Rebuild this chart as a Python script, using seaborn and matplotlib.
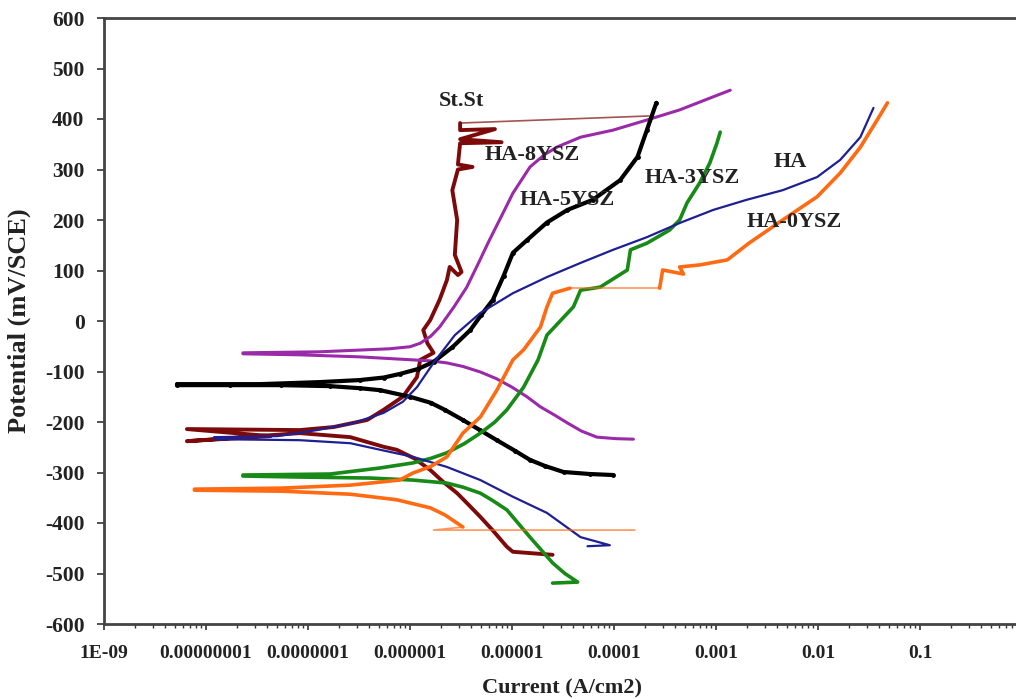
import numpy as np
import pandas as pd
import matplotlib
matplotlib.use("Agg")
import matplotlib.pyplot as plt
import matplotlib.ticker as mticker
import seaborn as sns

# potentiodynamic polarisation curves, current in A/cm2, potential in mV/SCE
# each series runs cathodic branch (from most negative E) -> Ecorr -> anodic branch

ss_i = [2.5e-5, 1.02e-5, 8.9e-6, 6.5e-6, 4.9e-6, 3.8e-6, 2.9e-6, 2.1e-6, 1.58e-6, 1.1e-6,
        7.4e-7, 5.5e-7, 2.6e-7, 8.3e-8, 6.5e-9, 4.3e-8, 6.5e-9, 8.3e-8, 1.78e-7, 3.8e-7,
        5.5e-7, 8.5e-7, 1.17e-6, 1.26e-6, 1.7e-6, 1.48e-6, 1.35e-6, 1.58e-6, 1.95e-6, 2.3e-6,
        2.45e-6, 2.95e-6, 3.2e-6, 2.75e-6, 2.9e-6, 2.6e-6, 2.95e-6, 4.1e-6, 2.95e-6, 3.1e-6,
        7.9e-6, 3.1e-6, 6.8e-6, 3.1e-6, 3.1e-6, 2.2e-4]
ss_e = [-463, -457, -447, -415, -388, -365, -341, -318, -295, -272,
        -255, -249, -230, -222, -238, -228, -214, -216, -210, -196,
        -176, -150, -111, -77, -63, -44, -18, 2, 42, 81,
        107, 91, 97, 131, 200, 259, 300, 305, 310, 352,
        354, 360, 380, 378, 392, 406]

y8_i = [1.55e-4, 1.05e-4, 6.8e-5, 4.8e-5, 3.5e-5, 2.6e-5, 1.9e-5, 1.4e-5, 1.0e-5, 7.0e-6,
        4.9e-6, 3.3e-6, 2.3e-6, 1.6e-6, 1.07e-6, 3.2e-7, 8.3e-8, 2.3e-8, 2.3e-8, 1.3e-7,
        6.3e-7, 1.0e-6, 1.26e-6, 1.6e-6, 1.95e-6, 2.7e-6, 3.6e-6, 4.7e-6, 6.0e-6, 7.9e-6,
        1.02e-5, 1.5e-5, 2.1e-5, 2.8e-5, 4.7e-5, 9.8e-5, 2.1e-4, 4.4e-4, 9.4e-4, 1.38e-3]
y8_e = [-234, -233, -230, -218, -202, -186, -170, -150, -131, -114,
        -101, -90, -83, -79, -77, -71, -67, -65, -63, -61,
        -55, -51, -44, -30, -12, 28, 67, 115, 160, 208,
        253, 305, 330, 345, 364, 378, 398, 418, 444, 457]

y5_i = [9.8e-5, 5.8e-5, 3.2e-5, 2.1e-5, 1.5e-5, 1.07e-5, 7.1e-6, 4.85e-6, 3.3e-6, 2.2e-6,
        1.6e-6, 1.0e-6, 5.1e-7, 3.2e-7, 1.65e-7, 5.4e-8, 1.7e-8, 5.2e-9, 5.2e-9, 3.4e-8,
        1.3e-7, 3.2e-7, 5.5e-7, 7.9e-7, 1.2e-6, 1.7e-6, 2.6e-6, 3.9e-6, 5.0e-6, 6.5e-6,
        8.3e-6, 1.02e-5, 1.4e-5, 2.2e-5, 3.5e-5, 6.2e-5, 1.15e-4, 1.7e-4, 2.1e-4, 2.6e-4]
y5_e = [-305, -303, -299, -287, -275, -257, -236, -216, -196, -176,
        -162, -150, -137, -133, -129, -127, -127, -127, -125, -125,
        -121, -117, -112, -105, -95, -81, -52, -18, 12, 42,
        90, 135, 160, 195, 220, 240, 279, 325, 378, 432]

y3_i = [2.5e-5, 4.4e-5, 3.3e-5, 2.5e-5, 1.5e-5, 8.9e-6, 6.4e-6, 4.9e-6, 3.3e-6, 2.3e-6,
        1.07e-6, 4.1e-7, 8.3e-8, 2.3e-8, 2.3e-8, 1.65e-7, 5.1e-7, 1.07e-6, 1.6e-6, 2.3e-6,
        3.4e-6, 4.9e-6, 6.8e-6, 8.9e-6, 1.3e-5, 1.8e-5, 2.2e-5, 4.0e-5, 4.7e-5, 7.3e-5,
        1.35e-4, 1.45e-4, 2.1e-4, 3.5e-4, 4.4e-4, 5.2e-4, 6.9e-4, 8.7e-4, 1.02e-3, 1.1e-3]
y3_e = [-519, -517, -500, -479, -428, -374, -355, -341, -329, -321,
        -315, -311, -309, -307, -305, -303, -291, -281, -272, -261,
        -243, -222, -200, -176, -131, -77, -28, 28, 61, 67,
        101, 141, 154, 180, 200, 234, 273, 313, 352, 374]

ha_i = [5.5e-5, 9.1e-5, 4.7e-5, 2.2e-5, 1.02e-5, 4.9e-6, 2.3e-6, 1.07e-6, 5.1e-7, 2.6e-7,
        8.3e-8, 1.2e-8, 1.2e-8, 5.0e-8, 1.23e-7, 2.8e-7, 5.5e-7, 8.5e-7, 1.17e-6, 1.7e-6,
        2.75e-6, 4.9e-6, 1.02e-5, 2.2e-5, 4.7e-5, 9.8e-5, 2.1e-4, 4.4e-4, 9.4e-4, 2.0e-3,
        4.5e-3, 9.8e-3, 1.65e-2, 2.6e-2, 3.5e-2]
ha_e = [-446, -444, -428, -380, -348, -315, -289, -269, -255, -242,
        -236, -234, -230, -228, -216, -202, -182, -160, -131, -83,
        -28, 16, 55, 87, 115, 141, 166, 194, 220, 240,
        259, 285, 319, 364, 422]

y0_i = [1.6e-4, 1.7e-6, 3.3e-6, 2.2e-6, 1.58e-6, 7.4e-7, 2.6e-7, 5.6e-8, 7.7e-9, 7.7e-9,
        5.4e-8, 2.6e-7, 7.9e-7, 1.07e-6, 1.6e-6, 2.3e-6, 3.3e-6, 4.9e-6, 7.1e-6, 1.02e-5,
        1.3e-5, 1.9e-5, 2.2e-5, 2.5e-5, 3.7e-5, 2.8e-4, 3.0e-4, 4.8e-4, 4.4e-4, 6.9e-4,
        1.29e-3, 2.1e-3, 4.5e-3, 9.8e-3, 1.65e-2, 2.6e-2, 3.8e-2, 4.8e-2]
y0_e = [-414, -414, -408, -384, -370, -354, -343, -337, -335, -333,
        -331, -325, -315, -301, -288, -269, -222, -190, -137, -77,
        -57, -12, 28, 55, 65, 65, 101, 93, 107, 111,
        121, 154, 200, 246, 293, 344, 398, 432]

samples = ["St.St", "HA-8YSZ", "HA-5YSZ", "HA-3YSZ", "HA", "HA-0YSZ"]
currents = [ss_i, y8_i, y5_i, y3_i, ha_i, y0_i]
potentials = [ss_e, y8_e, y5_e, y3_e, ha_e, y0_e]
colors = ["#7d0a0a", "#9a2aa8", "#000000", "#178a17", "#1f1f94", "#ff6a12"]
widths = [2.8, 2.2, 3.0, 2.6, 1.6, 2.6]

# stretches of a series drawn as a thin trace (sample, first point, last point)
thin_parts = [("St.St", 44, 45), ("HA-0YSZ", 0, 2), ("HA-0YSZ", 24, 25)]

# label positions (current, potential)
lab_i = [3.2e-6, 1.58e-5, 3.5e-5, 5.8e-4, 5.4e-3, 5.9e-3]
lab_e = [436, 329, 240, 283, 315, 196]

xtick_vals = [1e-9, 1e-8, 1e-7, 1e-6, 1e-5, 1e-4, 1e-3, 1e-2, 1e-1]
xtick_labels = ["1E-09", "0.00000001", "0.0000001", "0.000001", "0.00001",
                "0.0001", "0.001", "0.01", "0.1"]
ytick_vals = list(range(-600, 601, 100))

frames = []
for name, ci, ei in zip(samples, currents, potentials):
    frames.append(pd.DataFrame({"current": ci, "potential": ei, "sample": name}))
df = pd.concat(frames, ignore_index=True)

sns.set_style("white")
plt.rcParams["font.family"] = ["Liberation Serif", "DejaVu Serif"]
plt.rcParams["font.weight"] = "bold"

fig = plt.figure(figsize=(10.16, 6.99), dpi=100)
ax = fig.add_axes([104 / 1016, 1 - 624 / 699, 918 / 1016, 606 / 699])

for name, col, lw in zip(samples, colors, widths):
    sub = df[df["sample"] == name].reset_index(drop=True)
    # thick body of the curve, leaving out the thin stretches
    keep = np.ones(len(sub), dtype=bool)
    cuts = [(a, b) for s, a, b in thin_parts if s == name]
    pieces = []
    start = 0
    for a, b in sorted(cuts):
        pieces.append((start, a + 1))
        start = b
    pieces.append((start, len(sub)))
    for a, b in pieces:
        if b - a >= 2:
            sns.lineplot(data=sub.iloc[a:b], x="current", y="potential", ax=ax,
                         color=col, lw=lw, sort=False, estimator=None,
                         marker="o" if name == "HA-5YSZ" else None,
                         markersize=3.5, markeredgewidth=0)
    for a, b in cuts:
        sns.lineplot(data=sub.iloc[a:b + 1], x="current", y="potential", ax=ax,
                     color=col, lw=1.2, alpha=0.7, sort=False, estimator=None)

ax.set_xscale("log")
ax.set_xlim(1e-9, 1)
ax.set_ylim(-600, 600)

ax.xaxis.set_major_locator(mticker.FixedLocator(xtick_vals))
ax.xaxis.set_major_formatter(mticker.FixedFormatter(xtick_labels))
ax.xaxis.set_minor_locator(mticker.LogLocator(base=10, subs=np.arange(2, 10), numticks=20))
ax.xaxis.set_minor_formatter(mticker.NullFormatter())
ax.yaxis.set_major_locator(mticker.FixedLocator(ytick_vals))
ax.yaxis.set_major_formatter(mticker.FixedFormatter([str(v) for v in ytick_vals]))

ax.tick_params(axis="x", which="major", direction="out", length=4, width=1.2,
               pad=11, labelsize=14, colors="#333333", labelcolor="#222222")
ax.tick_params(axis="x", which="minor", direction="out", length=3, width=1.0,
               colors="#333333")
ax.tick_params(axis="y", which="major", direction="out", length=5, width=1.2,
               pad=9, labelsize=15.5, colors="#333333", labelcolor="#222222")
ax.tick_params(which="both", bottom=True, left=True)

for side in ["left", "bottom", "top"]:
    ax.spines[side].set_color("#444444")
    ax.spines[side].set_linewidth(2.0)
ax.spines["right"].set_visible(False)

ax.set_xlabel("")
ax.set_ylabel("")

for name, li, le in zip(samples, lab_i, lab_e):
    ax.text(li, le, name, ha="center", va="center", fontsize=16,
            fontweight="bold", color="#222222")

fig.text(562 / 1016, 1 - 688 / 699, "Current (A/cm2)", ha="center", va="center",
         fontsize=16, fontweight="bold", color="#222222")
fig.text(19 / 1016, 1 - 321 / 699, "Potential (mV/SCE)", ha="center", va="center",
         rotation=90, fontsize=19, fontweight="bold", color="#222222")

fig.savefig("out.png", dpi=100)
